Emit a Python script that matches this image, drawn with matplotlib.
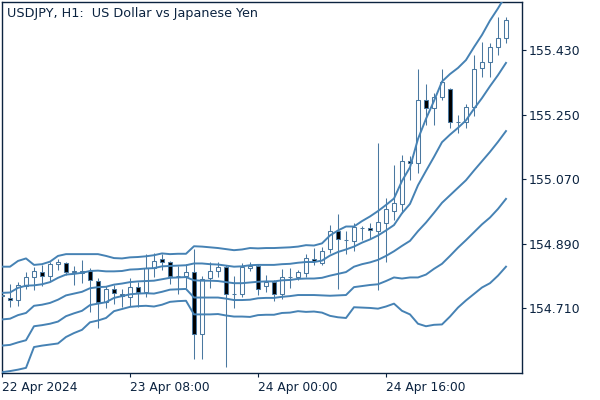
import numpy as np
import matplotlib
matplotlib.use('Agg')
import matplotlib.pyplot as plt

title = "USDJPY, H1:  US Dollar vs Japanese Yen"
x_tick_pos = [0, 16, 32, 48]
x_tick_labels = ["22 Apr 2024", "23 Apr 08:00", "24 Apr 00:00", "24 Apr 16:00"]
y_ticks = [154.710, 154.890, 155.070, 155.250, 155.430]

opens = [154.746, 154.740, 154.733, 154.772, 154.798, 154.810, 154.799, 154.833, 154.837, 154.810,
         154.808, 154.814, 154.787, 154.728, 154.763, 154.751, 154.742, 154.768, 154.756, 154.821,
         154.847, 154.838, 154.801, 154.801, 154.810, 154.638, 154.794, 154.814, 154.825, 154.749,
         154.750, 154.822, 154.827, 154.771, 154.783, 154.749, 154.796, 154.797, 154.808, 154.847,
         154.837, 154.875, 154.925, 154.900, 154.898, 154.934, 154.935, 154.926, 154.949, 154.982,
         155.001, 155.121, 155.114, 155.290, 155.268, 155.300, 155.320, 155.228, 155.228, 155.270,
         155.379, 155.397, 155.438, 155.463]
highs = [154.749, 154.777, 154.784, 154.811, 154.826, 154.831, 154.839, 154.847, 154.840, 154.827,
         154.845, 154.822, 154.795, 154.772, 154.776, 154.765, 154.794, 154.782, 154.861, 154.863,
         154.860, 154.843, 154.828, 154.834, 154.875, 154.799, 154.839, 154.839, 154.832, 154.800,
         154.836, 154.839, 154.834, 154.804, 154.789, 154.820, 154.822, 154.818, 154.861, 154.877,
         154.882, 154.942, 154.973, 154.925, 154.948, 154.940, 154.947, 155.170, 155.017, 155.110,
         155.137, 155.135, 155.377, 155.335, 155.309, 155.377, 155.323, 155.249, 155.279, 155.416,
         155.451, 155.449, 155.521, 155.523]
lows = [154.740, 154.715, 154.717, 154.764, 154.761, 154.772, 154.786, 154.817, 154.803, 154.775,
        154.781, 154.700, 154.654, 154.711, 154.722, 154.714, 154.716, 154.714, 154.742, 154.797,
        154.817, 154.778, 154.750, 154.767, 154.568, 154.569, 154.766, 154.797, 154.547, 154.712,
        154.742, 154.815, 154.747, 154.756, 154.729, 154.736, 154.767, 154.789, 154.798, 154.831,
        154.831, 154.863, 154.765, 154.861, 154.871, 154.900, 154.903, 154.761, 154.840, 154.956,
        154.975, 155.068, 155.086, 155.221, 155.222, 155.291, 155.213, 155.199, 155.212, 155.246,
        155.354, 155.354, 155.416, 155.450]
closes = [154.743, 154.732, 154.775, 154.797, 154.814, 154.799, 154.833, 154.838, 154.810, 154.813,
          154.813, 154.789, 154.728, 154.763, 154.752, 154.744, 154.769, 154.756, 154.822, 154.843,
          154.838, 154.799, 154.799, 154.810, 154.638, 154.792, 154.815, 154.825, 154.749, 154.750,
          154.825, 154.828, 154.763, 154.783, 154.749, 154.797, 154.797, 154.811, 154.849, 154.842,
          154.871, 154.926, 154.902, 154.901, 154.938, 154.935, 154.928, 154.950, 154.986, 155.003,
          155.121, 155.114, 155.291, 155.268, 155.300, 155.342, 155.228, 155.229, 155.270, 155.376,
          155.397, 155.438, 155.463, 155.514]

band_upper2 = [154.826, 154.826, 154.842, 154.849, 154.831, 154.833, 154.840, 154.856, 154.861, 154.861,
               154.861, 154.861, 154.861, 154.856, 154.850, 154.849, 154.852, 154.853, 154.855, 154.858,
               154.863, 154.861, 154.862, 154.862, 154.883, 154.882, 154.880, 154.878, 154.875, 154.872,
               154.874, 154.878, 154.877, 154.878, 154.878, 154.879, 154.880, 154.882, 154.886, 154.885,
               154.891, 154.913, 154.927, 154.938, 154.938, 154.953, 154.966, 154.981, 154.998, 155.016,
               155.065, 155.103, 155.182, 155.238, 155.288, 155.342, 155.363, 155.380, 155.402, 155.438,
               155.472, 155.512, 155.546, 155.583]
band_upper1 = [154.753, 154.754, 154.767, 154.773, 154.774, 154.777, 154.783, 154.795, 154.804, 154.806,
               154.809, 154.814, 154.815, 154.813, 154.813, 154.814, 154.818, 154.819, 154.821, 154.822,
               154.827, 154.828, 154.829, 154.830, 154.835, 154.835, 154.833, 154.832, 154.829, 154.826,
               154.827, 154.830, 154.831, 154.831, 154.831, 154.833, 154.834, 154.837, 154.839, 154.839,
               154.843, 154.857, 154.867, 154.874, 154.882, 154.893, 154.902, 154.913, 154.927, 154.942,
               154.975, 155.001, 155.053, 155.093, 155.132, 155.173, 155.194, 155.213, 155.234, 155.266,
               155.296, 155.329, 155.360, 155.394]
band_middle = [154.679, 154.681, 154.691, 154.697, 154.717, 154.720, 154.725, 154.734, 154.746, 154.751,
               154.756, 154.766, 154.769, 154.770, 154.776, 154.779, 154.783, 154.785, 154.786, 154.787,
               154.791, 154.795, 154.796, 154.797, 154.788, 154.787, 154.787, 154.786, 154.783, 154.780,
               154.780, 154.782, 154.784, 154.785, 154.785, 154.788, 154.789, 154.792, 154.793, 154.793,
               154.795, 154.801, 154.806, 154.811, 154.826, 154.833, 154.838, 154.845, 154.856, 154.869,
               154.884, 154.898, 154.925, 154.949, 154.976, 155.004, 155.025, 155.046, 155.067, 155.094,
               155.120, 155.146, 155.174, 155.204]
band_lower1 = [154.606, 154.608, 154.615, 154.621, 154.660, 154.663, 154.667, 154.673, 154.688, 154.696,
               154.703, 154.719, 154.723, 154.727, 154.739, 154.744, 154.749, 154.751, 154.752, 154.751,
               154.756, 154.762, 154.763, 154.764, 154.740, 154.740, 154.740, 154.740, 154.737, 154.733,
               154.733, 154.734, 154.738, 154.739, 154.739, 154.742, 154.744, 154.747, 154.747, 154.747,
               154.746, 154.745, 154.746, 154.747, 154.769, 154.772, 154.775, 154.777, 154.786, 154.796,
               154.793, 154.796, 154.796, 154.804, 154.820, 154.834, 154.856, 154.879, 154.900, 154.922,
               154.944, 154.963, 154.987, 155.015]
band_lower2 = [154.532, 154.535, 154.539, 154.544, 154.602, 154.606, 154.609, 154.612, 154.630, 154.641,
               154.650, 154.671, 154.676, 154.683, 154.702, 154.708, 154.714, 154.716, 154.717, 154.715,
               154.720, 154.728, 154.730, 154.731, 154.693, 154.693, 154.693, 154.694, 154.690, 154.687,
               154.687, 154.686, 154.691, 154.692, 154.692, 154.697, 154.698, 154.702, 154.700, 154.701,
               154.698, 154.689, 154.685, 154.683, 154.713, 154.712, 154.711, 154.709, 154.715, 154.723,
               154.703, 154.693, 154.667, 154.660, 154.664, 154.665, 154.687, 154.712, 154.732, 154.750,
               154.768, 154.780, 154.801, 154.826]

TEXT = '#0b2340'
LINE = '#4682B4'
CANDLE = '#4a78a0'

W, H = 600, 400
fig = plt.figure(figsize=(W / 100, H / 100), dpi=100)
ax = fig.add_axes([2 / W, 1 - 372.7 / H, 520.3 / W, 370.7 / H])

o = np.array(opens); h = np.array(highs); l = np.array(lows); c = np.array(closes)
idx = np.arange(len(o))

ax.vlines(idx, l, h, color=CANDLE, linewidth=0.75, zorder=2)
up = c >= o
body_w = 0.6
ax.bar(idx[up], (c - o)[up], bottom=o[up], width=body_w, facecolor='white',
       edgecolor=CANDLE, linewidth=0.75, zorder=3)
ax.bar(idx[~up], (c - o)[~up], bottom=o[~up], width=body_w, facecolor='black',
       edgecolor=CANDLE, linewidth=0.75, zorder=3)

for band in (band_upper2, band_upper1, band_middle, band_lower1, band_lower2):
    ax.plot(idx, band, color=LINE, linewidth=1.4, zorder=4, solid_joinstyle='round')

ax.set_xlim(0, 65.04)
ax.set_ylim(154.5305, 155.5638)

ax.yaxis.tick_right()
ax.set_yticks(y_ticks)
ax.set_yticklabels([f"{v:.3f}" for v in y_ticks])
ax.tick_params(axis='y', direction='out', length=3.2, width=0.8, colors=TEXT,
               labelsize=9, pad=1.5)
ax.set_xticks(x_tick_pos)
ax.set_xticklabels(x_tick_labels)
ax.tick_params(axis='x', direction='out', length=3.2, width=0.8, colors=TEXT,
               labelsize=8.8, pad=3)
for lbl in ax.get_xticklabels():
    lbl.set_horizontalalignment('left')

for sp in ax.spines.values():
    sp.set_color(TEXT)
    sp.set_linewidth(1.0)

fig.text(7 / W, 1 - 14 / H, title, color=TEXT, fontsize=9.2, va='center', ha='left',
         family='DejaVu Sans')

fig.savefig('out.png', dpi=100, facecolor='white')
